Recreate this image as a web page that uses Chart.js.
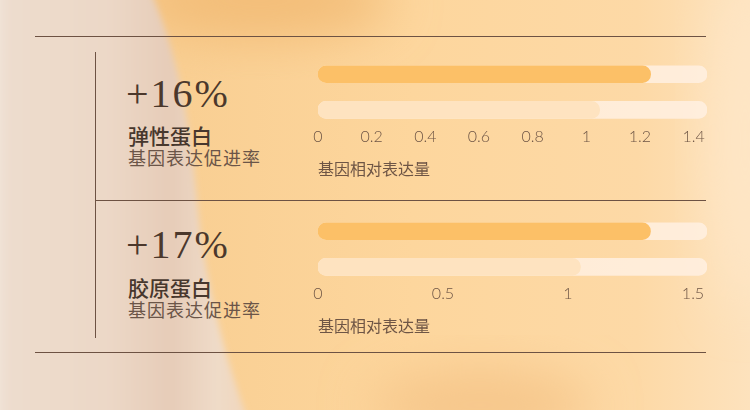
<!DOCTYPE html>
<html>
<head>
<meta charset="utf-8">
<script src="https://cdn.jsdelivr.net/npm/chart.js@4.4.1/dist/chart.umd.min.js"></script>
<style>
  html, body { margin: 0; padding: 0; }
  body { width: 750px; height: 410px; position: relative; overflow: hidden; background: #fcd59c; }
  .bg { position: absolute; left: 0; top: 0; }
  .rule { position: absolute; background: #6d5243; }
  .big { position: absolute; left: 126px; font-family: 'Liberation Serif', 'Times New Roman', serif; font-size: 40px; line-height: 40px; letter-spacing: 2px; color: #4b382c; }
  .name { position: absolute; left: 128px; font-family: 'Noto Sans CJK SC', sans-serif; font-size: 21px; line-height: 21px; font-weight: 500; color: #47372d; }
  .sub { position: absolute; left: 128px; font-family: 'Noto Sans CJK SC', sans-serif; font-size: 18px; line-height: 18px; letter-spacing: 1px; color: #6b5548; }
  .chart { position: absolute; left: 300px; width: 420px; height: 140px; }
</style>
</head>
<body>
<svg class="bg" width="750" height="410">
  <defs>
    <linearGradient id="warm" x1="0" y1="0" x2="1" y2="0">
      <stop offset="0.25" stop-color="#f9cf93"/>
      <stop offset="0.55" stop-color="#fdd69d"/>
      <stop offset="0.85" stop-color="#fdd9a6"/>
      <stop offset="1" stop-color="#fde2bd"/>
    </linearGradient>
    <linearGradient id="cloth" x1="0" y1="0" x2="1" y2="0">
      <stop offset="0" stop-color="#f3e7dd"/>
      <stop offset="0.08" stop-color="#eddccd"/>
      <stop offset="0.45" stop-color="#ecd8c7"/>
      <stop offset="0.7" stop-color="#e6ccb8"/>
      <stop offset="0.88" stop-color="#efdbc8"/>
      <stop offset="1" stop-color="#f1d6bb"/>
    </linearGradient>
    <filter id="soft" x="-20%" y="-20%" width="140%" height="140%"><feGaussianBlur stdDeviation="3"/></filter>
    <filter id="softer" x="-50%" y="-50%" width="200%" height="200%"><feGaussianBlur stdDeviation="25"/></filter>
  </defs>
  <rect x="0" y="0" width="750" height="410" fill="url(#warm)"/>
  <ellipse cx="260" cy="0" rx="130" ry="40" fill="#f3bd78" filter="url(#softer)"/>
  <ellipse cx="480" cy="405" rx="110" ry="35" fill="#f6c68a" filter="url(#softer)"/>
  <ellipse cx="745" cy="140" rx="35" ry="170" fill="#fee6c6" filter="url(#softer)"/>
  <path d="M-10,-10 L150,-10 C185,70 192,150 200,230 C210,300 226,360 248,420 L-10,420 Z" fill="url(#cloth)" filter="url(#soft)"/>
</svg>

<div class="rule" style="left:35px; top:36px; width:671px; height:1px;"></div>
<div class="rule" style="left:95px; top:52px; width:1px; height:286px;"></div>
<div class="rule" style="left:96px; top:200px; width:610px; height:1px;"></div>
<div class="rule" style="left:35px; top:352px; width:671px; height:1px;"></div>

<div class="big" style="top:74px;">+16%</div>
<div class="name" style="top:125px;">弹性蛋白</div>
<div class="sub" style="top:148px;">基因表达促进率</div>

<div class="big" style="top:225px;">+17%</div>
<div class="name" style="top:277px;">胶原蛋白</div>
<div class="sub" style="top:300px;">基因表达促进率</div>

<div class="chart" style="top:50px;"><canvas id="chart_elastin"></canvas></div>
<div class="chart" style="top:206.5px;"><canvas id="chart_collagen"></canvas></div>

<script>
const groups = ['处理组', '对照组'];
const elastinValues = [1.24, 1.05];
const collagenValues = [1.33, 1.05];
const elastinTicks = [0, 0.2, 0.4, 0.6, 0.8, 1, 1.2, 1.4];
const collagenTicks = [0, 0.5, 1, 1.5];
const elastinMax = 1.45;
const collagenMax = 1.556;
const axisTitle = '基因相对表达量';

const chart_elastin = document.getElementById('chart_elastin');
const chart_collagen = document.getElementById('chart_collagen');

const makeChart = (canvas, values, tickValues, max) => {
  new Chart(canvas, {
    type: 'bar',
    data: {
      labels: groups,
      datasets: [{
        data: values,
        backgroundColor: ['#fcc067', '#fee3c0'],
        grouped: false,
        barThickness: 17,
        borderRadius: 10,
        borderSkipped: false
      }, {
        data: groups.map(() => max),
        backgroundColor: 'rgba(255, 240, 226, 0.85)',
        grouped: false,
        barThickness: 17,
        borderRadius: 10,
        borderSkipped: false
      }]
    },
    options: {
      indexAxis: 'y',
      responsive: false,
      animation: false,
      layout: { padding: { left: 18, right: 13, top: 6.5, bottom: 11 } },
      plugins: { legend: { display: false }, tooltip: { enabled: false } },
      scales: {
        y: { display: false },
        x: {
          min: 0,
          max: max,
          afterBuildTicks: (axis) => { axis.ticks = tickValues.map(v => ({ value: v })); },
          grid: { display: false, drawTicks: false },
          border: { display: false },
          ticks: {
            padding: 0,
            autoSkip: false,
            maxRotation: 0,
            color: '#6e5545',
            font: { family: 'Lato, "Noto Sans", sans-serif', size: 16, weight: 300 },
            callback: (v) => v.toString()
          },
          title: {
            display: true,
            text: axisTitle,
            align: 'start',
            color: '#6e5545',
            padding: { top: 13, bottom: 0 },
            font: { family: '"Noto Sans CJK SC", sans-serif', size: 16 }
          }
        }
      }
    }
  });
}

chart_elastin.width = 420; chart_elastin.height = 140;
chart_collagen.width = 420; chart_collagen.height = 140;
makeChart(chart_elastin, elastinValues, elastinTicks, elastinMax);
makeChart(chart_collagen, collagenValues, collagenTicks, collagenMax);
</script>
</body>
</html>
